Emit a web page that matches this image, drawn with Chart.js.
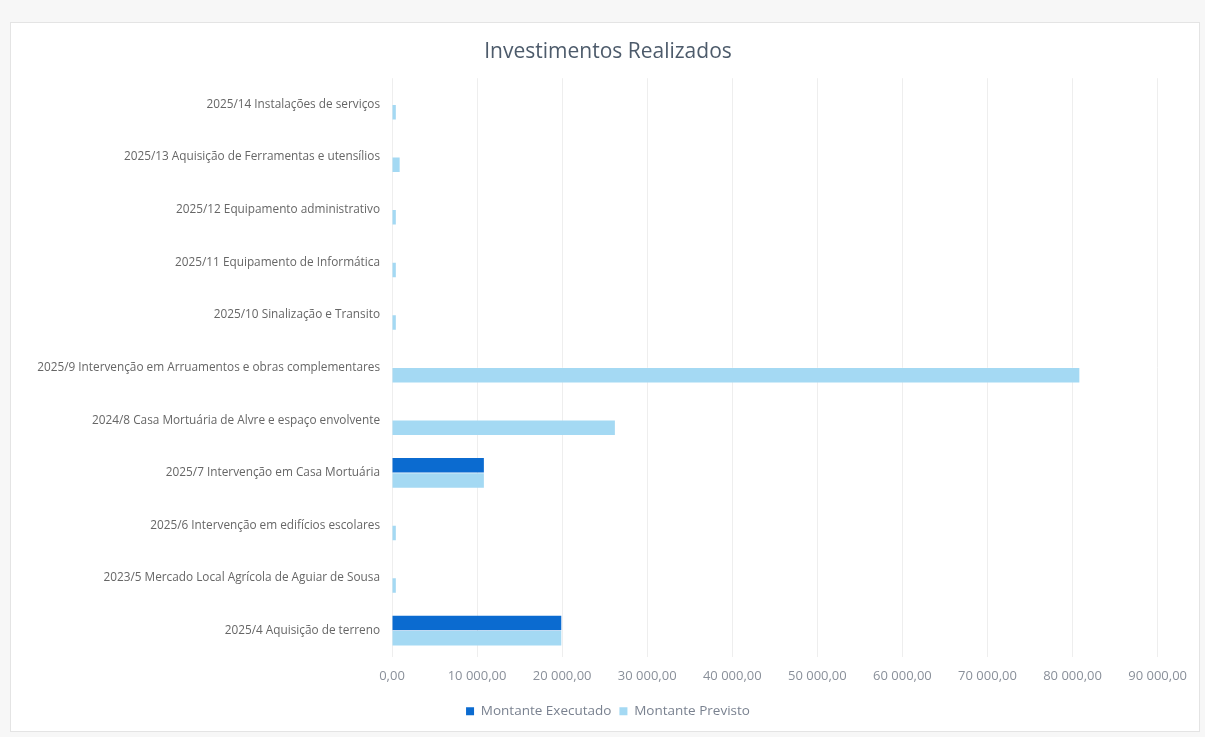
<!DOCTYPE html>
<html>
<head>
<meta charset="utf-8">
<script src="https://cdn.jsdelivr.net/npm/chart.js@4"></script>
<style>
	html, body { margin: 0; padding: 0; background: #f7f7f7; }
	#wrap {
		position: absolute; left: 10px; top: 22px; width: 1190px; height: 710px;
		background: #fff; border: 1px solid #e4e4e4; box-sizing: border-box;
	}
</style>
</head>
<body>
<div id="wrap"><canvas id="myChart"></canvas></div>
<script>
// categorias (ordem do Excel, de baixo para cima)
const categorias = [
	"2025/4 Aquisição de terreno",
	"2023/5 Mercado Local Agrícola de Aguiar de Sousa",
	"2025/6 Intervenção em edifícios escolares",
	"2025/7 Intervenção em Casa Mortuária",
	"2024/8 Casa Mortuária de Alvre e espaço envolvente",
	"2025/9 Intervenção em Arruamentos e obras complementares",
	"2025/10 Sinalização e Transito",
	"2025/11 Equipamento de Informática",
	"2025/12 Equipamento administrativo",
	"2025/13 Aquisição de Ferramentas e utensílios",
	"2025/14 Instalações de serviços",
];
const montanteExecutado = [19900, 0, 0, 10800, 0, 0, 0, 0, 0, 0, 0];
const montantePrevisto = [19900, 450, 450, 10800, 26200, 80800, 450, 450, 450, 900, 450];

const eixoMax = 90000;
const eixoPasso = 10000;

const fmt = (v) => {
	const [int, dec] = Number(v).toFixed(2).split(".");
	return int.replace(/\B(?=(\d{3})+(?!\d))/g, " ") + "," + dec;
};

const ctx = document.getElementById("myChart");

new Chart(ctx, {
	type: "bar",
	data: {
		labels: categorias,
		datasets: [
			{
				label: "Montante Executado",
				data: montanteExecutado,
				backgroundColor: "#0b6bd0",
			},
			{
				label: "Montante Previsto",
				data: montantePrevisto,
				backgroundColor: "#a4d9f3",
			},
		],
	},
	options: {
		indexAxis: "y",
		responsive: true,
		maintainAspectRatio: false,
		animation: false,
		layout: { padding: { left: 20, right: 14, top: 6, bottom: 3 } },
		datasets: {
			bar: { categoryPercentage: 0.58, barPercentage: 0.95 },
		},
		plugins: {
			title: {
				display: true,
				text: "Investimentos Realizados",
				color: "#4d5b6b",
				font: { family: "Open Sans", size: 21, weight: "normal" },
				padding: { top: 10, bottom: 14 },
			},
			legend: {
				position: "bottom",
				labels: {
					boxWidth: 8,
					boxHeight: 8,
					color: "#7a8290",
					font: { family: "Open Sans", size: 13.5 },
					padding: 8,
				},
			},
			tooltip: { enabled: false },
		},
		scales: {
			x: {
				min: 0,
				max: eixoMax,
				ticks: {
					stepSize: eixoPasso,
					color: "#8a909a",
					font: { family: "Open Sans", size: 13 },
					callback: (v) => fmt(v),
					padding: 12,
				},
				grid: { color: "#eeeeee", drawTicks: false },
				border: { display: false },
			},
			y: {
				reverse: true,
				ticks: {
					color: "#666",
					font: { family: "Open Sans", size: 11.8 },
					padding: 4,
				},
				grid: { display: false },
				border: { display: false },
				afterFit: (scale) => { scale.width = 361; },
			},
		},
	},
});
</script>
</body>
</html>
